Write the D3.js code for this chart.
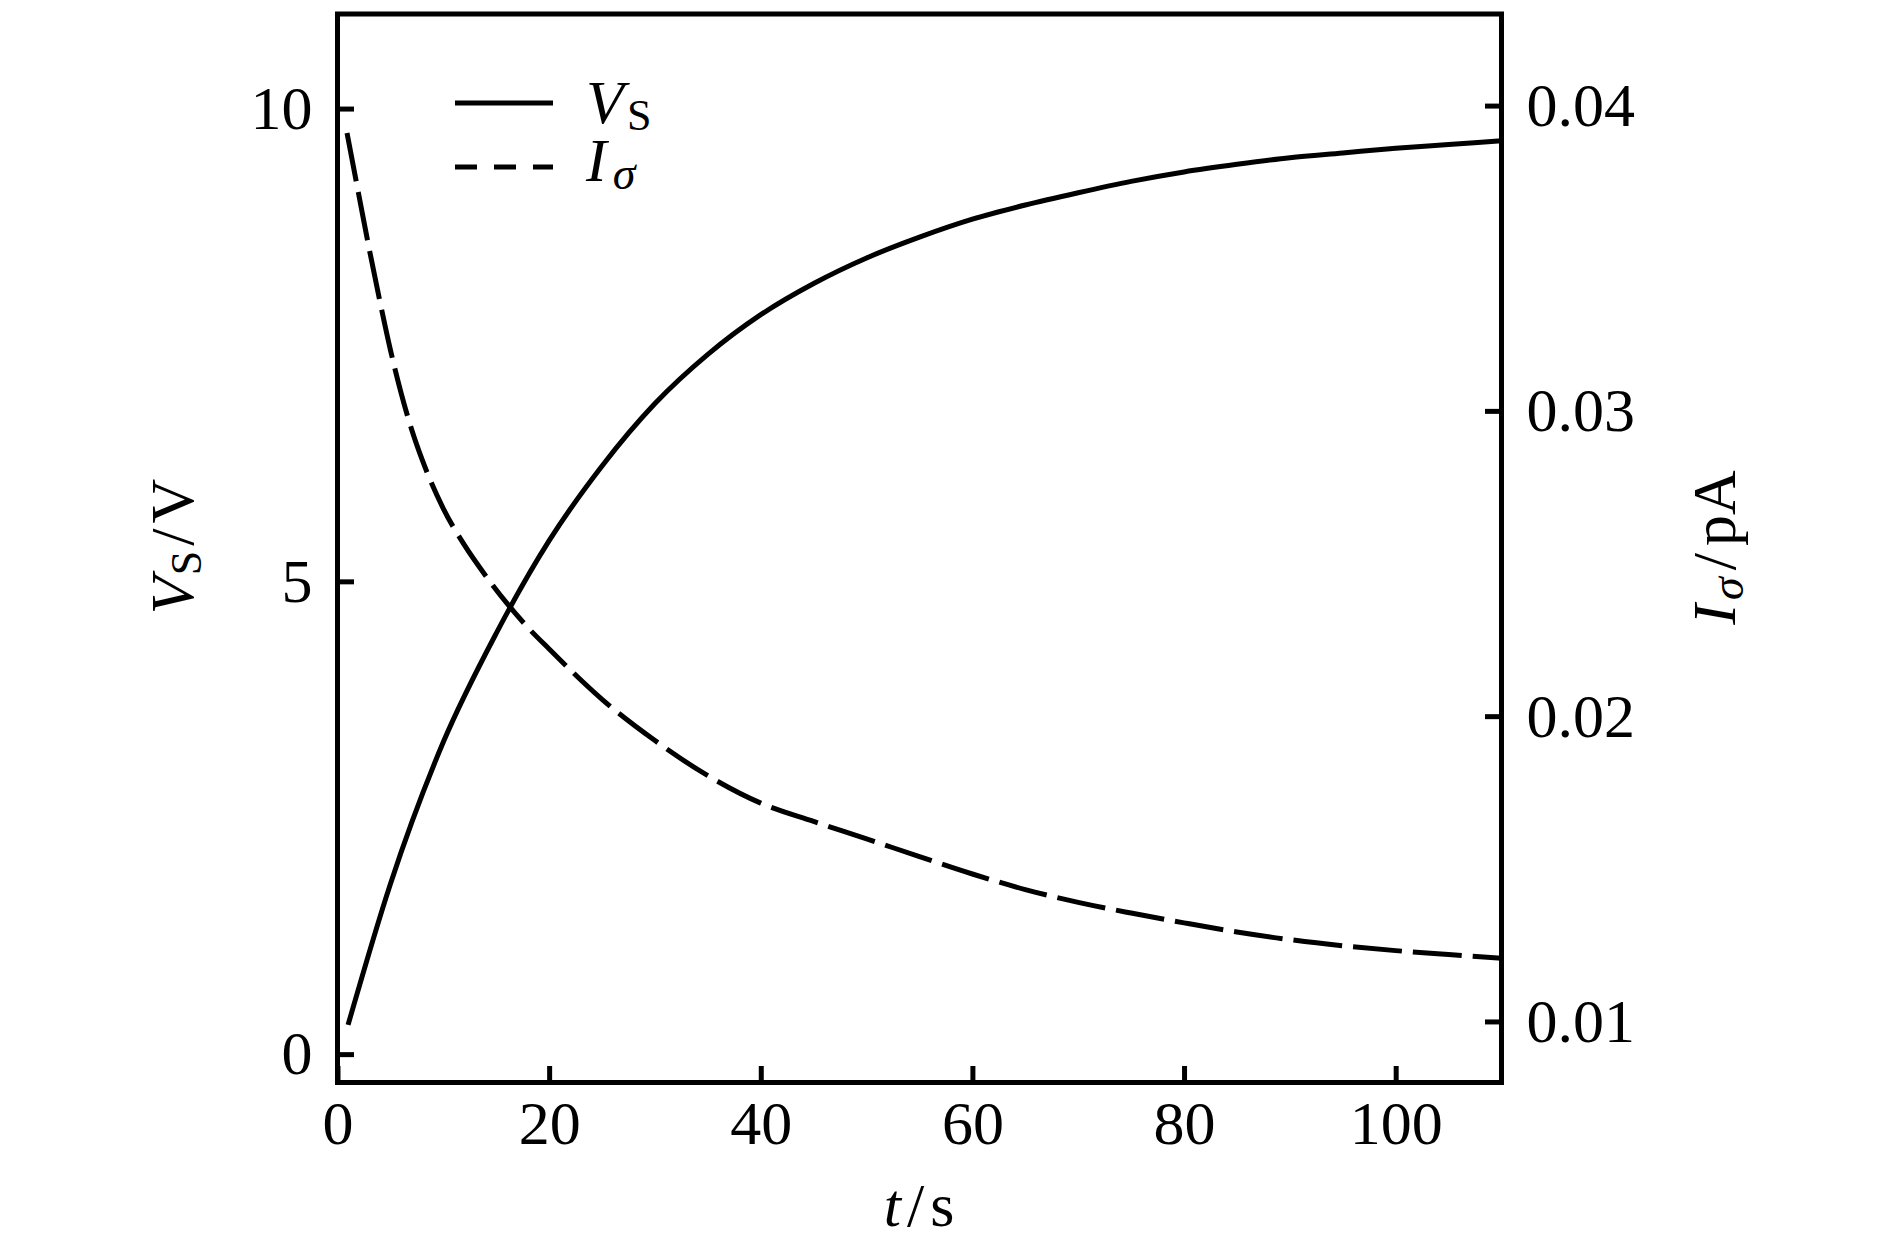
<!DOCTYPE html>
<html><head><meta charset="utf-8">
<script src="https://cdn.jsdelivr.net/npm/d3@7"></script>
<style>
html,body{margin:0;padding:0;background:#fff;}
svg{display:block;}
text{font-family:"Liberation Serif","DejaVu Serif",serif;fill:#000;}
</style>
</head><body>
<svg id="chart" width="1890" height="1252"></svg>
<script>
// ---- data ----
const tVs = [1, 5, 10, 15, 20, 25, 30, 35, 40, 45, 50, 55, 60, 65, 70, 75, 80, 85, 90, 95, 100, 105, 110];
const Vs  = [0.31, 1.80, 3.30, 4.45, 5.43, 6.22, 6.88, 7.40, 7.82, 8.15, 8.42, 8.64, 8.83, 8.98, 9.11, 9.23, 9.33, 9.41, 9.48, 9.53, 9.58, 9.62, 9.66];
const tI  = [0.9, 2, 3, 4, 5, 6, 7, 8, 10, 12, 14, 16, 18, 20, 25, 30, 35, 40, 45, 50, 55, 60, 65, 70, 75, 80, 85, 90, 95, 100, 105, 110];
const Isig = [0.0391, 0.0371, 0.0353, 0.0336, 0.0320, 0.0306, 0.0294, 0.0284, 0.0268, 0.0256, 0.0246, 0.0237, 0.0229, 0.0222, 0.02055, 0.0192, 0.01805, 0.01715, 0.01655, 0.01598, 0.01540, 0.01483, 0.01432, 0.01390, 0.01355, 0.01323, 0.01293, 0.01268, 0.01248, 0.01232, 0.01219, 0.01207];
const xTicks = [0, 20, 40, 60, 80, 100];
const vTicks = [0, 5, 10];
const iTicks = [0.01, 0.02, 0.03, 0.04];

// ---- layout ----
const m = {left: 337.5, right: 1501.5, top: 14, bottom: 1082.5};
const FS = 62;
const svg = d3.select('#chart');

const x  = d3.scaleLinear().domain([0, 110]).range([m.left, m.right]);
const yV = d3.scaleLinear().domain([-0.3, 11]).range([m.bottom, m.top]);
const yI = d3.scaleLinear().domain([0.008, 0.043]).range([m.bottom, m.top]);

// curves
const lineV = d3.line().x((d, i) => x(tVs[i])).y(d => yV(d)).curve(d3.curveMonotoneX);
const lineI = d3.line().x((d, i) => x(tI[i])).y(d => yI(d)).curve(d3.curveMonotoneX);

svg.append('path').attr('d', lineV(Vs))
  .attr('fill', 'none').attr('stroke', '#000').attr('stroke-width', 5);
svg.append('path').attr('d', lineI(Isig))
  .attr('fill', 'none').attr('stroke', '#000').attr('stroke-width', 5)
  .attr('stroke-dasharray', '49,11');

// axes
function styleAxis(g) {
  g.select('.domain').remove();
  g.selectAll('.tick line').attr('stroke', '#000').attr('stroke-width', 5);
  g.selectAll('.tick text').style('font-family', '"Liberation Serif","DejaVu Serif",serif')
    .style('font-size', FS + 'px').attr('fill', '#000');
}
svg.append('g').attr('transform', `translate(0,${m.bottom})`)
  .call(d3.axisBottom(x).tickValues(xTicks).tickSize(-16.5).tickPadding(17).tickFormat(d3.format('d')))
  .call(styleAxis);
svg.append('g').attr('transform', `translate(${m.left},0)`)
  .call(d3.axisLeft(yV).tickValues(vTicks).tickSize(-16.5).tickPadding(25).tickFormat(d3.format('d')))
  .call(styleAxis);
svg.append('g').attr('transform', `translate(${m.right},0)`)
  .call(d3.axisRight(yI).tickValues(iTicks).tickSize(-16.5).tickPadding(25).tickFormat(d3.format('.2f')))
  .call(styleAxis);

// frame
svg.append('rect').attr('x', m.left).attr('y', m.top)
  .attr('width', m.right - m.left).attr('height', m.bottom - m.top)
  .attr('fill', 'none').attr('stroke', '#000').attr('stroke-width', 5);

// axis labels
const xl = svg.append('text').attr('x', 919).attr('y', 1226).attr('text-anchor', 'middle').style('font-size', FS + 'px');
xl.append('tspan').attr('font-style', 'italic').text('t');
xl.append('tspan').attr('dx', 6).text('/');
xl.append('tspan').attr('dx', 6).text('s');

const yl = svg.append('text').attr('transform', 'translate(193,546.5) rotate(-90)')
  .attr('text-anchor', 'middle').style('font-size', FS + 'px');
yl.append('tspan').attr('font-style', 'italic').text('V');
yl.append('tspan').attr('dy', 8).attr('dx', 1).style('font-size', '44px').text('S');
yl.append('tspan').attr('dy', -8).attr('dx', 5).text('/');
yl.append('tspan').attr('dx', 5).text('V');

const yr = svg.append('text').attr('transform', 'translate(1735,547.5) rotate(-90)')
  .attr('text-anchor', 'middle').style('font-size', FS + 'px');
yr.append('tspan').attr('font-style', 'italic').text('I');
yr.append('tspan').attr('dy', 8).attr('dx', 4).attr('font-style', 'italic').style('font-size', '46px').text('σ');
yr.append('tspan').attr('dy', -8).attr('dx', 7).text('/');
yr.append('tspan').attr('dx', 7).text('pA');

// legend
const leg = svg.append('g');
leg.append('line').attr('x1', 455).attr('x2', 553).attr('y1', 103).attr('y2', 103)
  .attr('stroke', '#000').attr('stroke-width', 5);
leg.append('line').attr('x1', 455).attr('x2', 553).attr('y1', 167).attr('y2', 167)
  .attr('stroke', '#000').attr('stroke-width', 5).attr('stroke-dasharray', '22,17');
const l1 = leg.append('text').attr('x', 586).attr('y', 123).style('font-size', FS + 'px');
l1.append('tspan').attr('font-style', 'italic').text('V');
l1.append('tspan').attr('dy', 7).attr('dx', 3).style('font-size', '44px').text('S');
const l2 = leg.append('text').attr('x', 586).attr('y', 181).style('font-size', FS + 'px');
l2.append('tspan').attr('font-style', 'italic').text('I');
l2.append('tspan').attr('dy', 8).attr('dx', 6).attr('font-style', 'italic').style('font-size', '46px').text('σ');
</script>
</body></html>
